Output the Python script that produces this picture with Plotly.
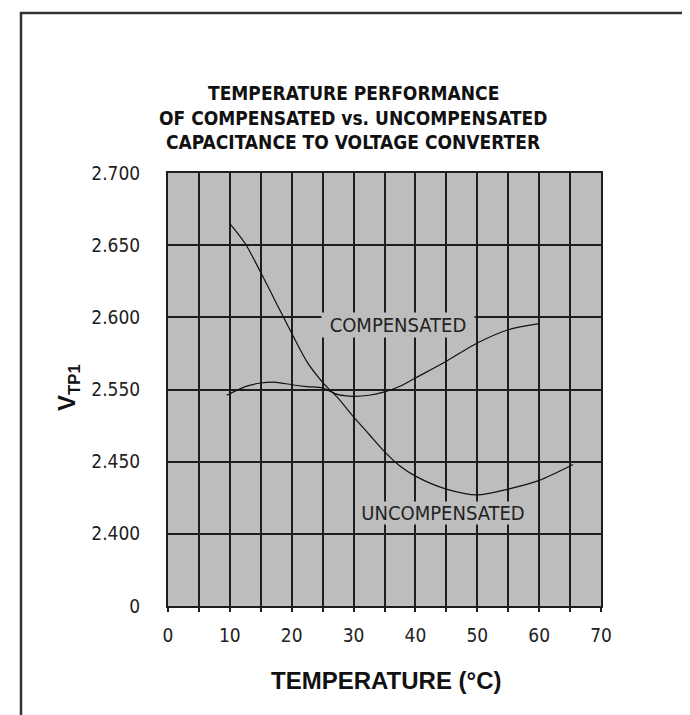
import plotly.graph_objects as go

# ---- data ----
unc_temp = [10, 12.5, 15, 17.5, 20, 22.5, 25, 27.5, 30, 32.5, 35, 37.5, 40, 45, 50, 55, 60, 65.5]
unc_vtp1 = [2.665, 2.651, 2.631, 2.610, 2.589, 2.569, 2.555, 2.544, 2.531, 2.519, 2.507,
            2.497, 2.490, 2.481, 2.477, 2.481, 2.487, 2.498]

comp_temp = [9.5, 12.5, 15, 17.5, 20, 22.5, 25, 27.5, 30, 32.5, 35, 37.5, 40, 45, 50, 55, 60]
comp_vtp1 = [2.546, 2.552, 2.5545, 2.555, 2.5533, 2.552, 2.551, 2.5464, 2.5453, 2.546, 2.5483,
             2.5522, 2.558, 2.5696, 2.5822, 2.5914, 2.5956]

x_tick_vals = [0, 10, 20, 30, 40, 50, 60, 70]
x_tick_text = ["0", "10", "20", "30", "40", "50", "60", "70"]

y_tick_vals = [2.40, 2.45, 2.50, 2.55, 2.60, 2.65, 2.70]
y_tick_text = ["0", "2.400", "2.450", "2.550", "2.600", "2.650", "2.700"]

title_lines = ["TEMPERATURE PERFORMANCE",
               "OF COMPENSATED vs. UNCOMPENSATED",
               "CAPACITANCE TO VOLTAGE CONVERTER"]

# ---- layout geometry ----
W, H = 690, 715
L, R, T, B = 160, 97, 165, 117
PW, PH = W - L - R, H - T - B


def px(x):
    return (x - L) / PW


def py(y):
    return (H - B - y) / PH


NARROW = "DejaVu Sans Condensed, Liberation Sans Narrow, sans-serif"
BG = "#bdbdbd"
GRID = "#1e1e1e"

fig = go.Figure()
fig.add_trace(go.Scatter(x=unc_temp, y=unc_vtp1, mode="lines",
                         line=dict(color="#111", width=1.2, shape="spline", smoothing=0.8),
                         name="UNCOMPENSATED", hoverinfo="x+y"))
fig.add_trace(go.Scatter(x=comp_temp, y=comp_vtp1, mode="lines",
                         line=dict(color="#111", width=1.2, shape="spline", smoothing=0.8),
                         name="COMPENSATED", hoverinfo="x+y"))

annotations = []
for text, yc in zip(title_lines, [85, 110, 134]):
    annotations.append(dict(text=text, xref="paper", yref="paper", x=px(345), y=py(yc),
                            xanchor="center", yanchor="middle", showarrow=False,
                            font=dict(family=NARROW, size=19, color="#111", weight="bold")))

annotations.append(dict(text="COMPENSATED", x=37.2, y=2.595, xref="x", yref="y",
                        showarrow=False, bgcolor=BG, width=152, height=24, borderpad=0,
                        font=dict(family=NARROW, size=20, color="#222")))
annotations.append(dict(text="UNCOMPENSATED", x=44.4, y=2.4644, xref="x", yref="y",
                        showarrow=False, bgcolor=BG, width=172, height=22, borderpad=0,
                        font=dict(family=NARROW, size=20, color="#222")))

annotations.append(dict(text="TEMPERATURE (°C)", xref="paper", yref="paper",
                        x=px(378), y=py(672), xanchor="center", yanchor="middle",
                        showarrow=False,
                        font=dict(family="Liberation Sans, Arial, sans-serif", size=24,
                                  color="#111", weight="bold")))
annotations.append(dict(text="V<sub>TP1</sub>", xref="paper", yref="paper",
                        x=px(60), y=py(380), xanchor="center", yanchor="middle",
                        textangle=-90, showarrow=False,
                        font=dict(family="Liberation Sans, Arial, sans-serif", size=24,
                                  color="#111", weight="bold")))

shapes = [dict(type="path", xref="paper", yref="paper",
               path=f"M {px(13)} {py(H + 5)} L {px(13)} {py(5)} L {px(W + 5)} {py(5)}",
               line=dict(color="#333", width=2.5))]

fig.update_layout(
    width=W, height=H,
    margin=dict(l=L, r=R, t=T, b=B, autoexpand=False),
    paper_bgcolor="white", plot_bgcolor=BG,
    showlegend=False,
    annotations=annotations,
    shapes=shapes,
)
fig.update_xaxes(range=[0, 70], tickvals=x_tick_vals, ticktext=x_tick_text,
                 showgrid=True, gridcolor=GRID, gridwidth=2,
                 minor=dict(dtick=5, tick0=0, showgrid=True, gridcolor=GRID, gridwidth=2,
                            ticks="outside", ticklen=4, tickwidth=2, tickcolor=GRID),
                 showline=True, linecolor=GRID, linewidth=2, mirror=True,
                 ticks="outside", ticklen=4, tickwidth=2, tickcolor=GRID,
                 ticklabelstandoff=7,
                 tickfont=dict(family=NARROW, size=19, color="#222"),
                 zeroline=False, fixedrange=True)
fig.update_yaxes(range=[2.40, 2.70], tickvals=y_tick_vals, ticktext=y_tick_text,
                 showgrid=True, gridcolor=GRID, gridwidth=2,
                 showline=True, linecolor=GRID, linewidth=2, mirror=True,
                 ticks="", ticklabelstandoff=22,
                 tickfont=dict(family=NARROW, size=19, color="#222"),
                 zeroline=False, fixedrange=True)

fig.write_html("out.html")
